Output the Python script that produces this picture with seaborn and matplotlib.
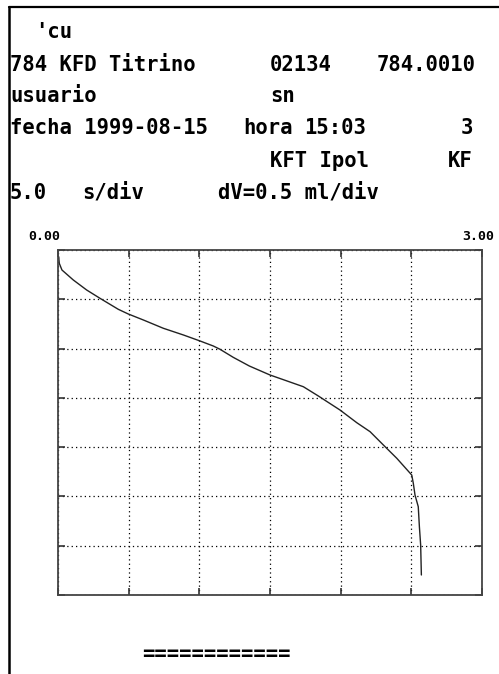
import numpy as np
import pandas as pd
import matplotlib
matplotlib.use("Agg")
import matplotlib.pyplot as plt
import seaborn as sns

# Titration curve: dispensed volume (ml) against elapsed time (s)
volume_ml = [0.005, 0.009, 0.028, 0.108, 0.203, 0.297, 0.427, 0.497,
             0.604, 0.745, 0.887, 1.005, 1.099, 1.146, 1.240, 1.354, 1.500,
             1.736, 1.842, 1.995, 2.114, 2.208, 2.302, 2.397, 2.503, 2.514,
             2.526, 2.549, 2.557, 2.566, 2.571]
time_s = [0.68, 1.35, 2.03, 3.04, 4.06, 4.90, 6.02, 6.49,
          7.10, 7.94, 8.62, 9.23, 9.74, 10.07, 10.89, 11.77, 12.68,
          13.87, 14.81, 16.23, 17.52, 18.43, 19.78, 21.13, 22.83, 23.67,
          24.86, 26.04, 28.07, 29.93, 32.97]

x_range = [0.0, 3.0]
x_step = 0.5
y_range = [0.0, 35.0]
y_step = 5.0
x_end_labels = ["0.00", "3.00"]

header_rows = [
    [("'cu", 35, "left")],
    [("784 KFD Titrino", 10, "left"), ("02134", 270, "left"), ("784.0010", 377, "left")],
    [("usuario", 10, "left"), ("sn", 270, "left")],
    [("fecha 1999-08-15", 10, "left"), ("hora", 243, "left"), ("15:03", 304, "left"),
     ("3", 473, "right")],
    [("KFT Ipol", 270, "left"), ("KF", 473, "right")],
    [("5.0", 10, "left"), ("s/div", 82, "left"), ("dV=0.5 ml/div", 218, "left")],
]
row_y = [32, 65, 96, 128, 161, 193]
footer = "============"

sns.set_theme(style="white")
plt.rcParams["font.family"] = ["DejaVu Sans Mono", "DejaVu Sans"]

W, H = 499, 674
fig = plt.figure(figsize=(W / 100, H / 100), dpi=100)
fig.patch.set_facecolor("white")


def fx(px):
    return px / W


def fy(py):
    return 1 - py / H


# page border (top and left edges)
fig.add_artist(plt.Line2D([fx(9), fx(499)], [fy(7), fy(7)], color="black", lw=1.6))
fig.add_artist(plt.Line2D([fx(9), fx(9)], [fy(7), fy(674)], color="black", lw=1.8))

# printed header
for row, y in zip(header_rows, row_y):
    for text, x, ha in row:
        fig.text(fx(x), fy(y), text, ha=ha, va="center", fontsize=14.8,
                 fontweight="bold", color="black")

# plot area
left, right, top, bottom = 58, 482, 250, 595
ax = fig.add_axes([fx(left), fy(bottom), (right - left) / W, (bottom - top) / H])
df = pd.DataFrame({"volume": volume_ml, "time": time_s})
sns.lineplot(data=df, x="volume", y="time", sort=False, ax=ax,
             color="#222222", linewidth=1.0)

ax.set_xlim(*x_range)
ax.set_ylim(y_range[1], y_range[0])
ax.set_xticks(np.arange(x_range[0], x_range[1] + 1e-9, x_step))
ax.set_yticks(np.arange(y_range[0], y_range[1] + 1e-9, y_step))
ax.set_xticklabels([])
ax.set_yticklabels([])
ax.set_xlabel("")
ax.set_ylabel("")
ax.tick_params(direction="in", length=5, width=1.2, color="#333333",
               top=True, right=True, bottom=True, left=True)
ax.grid(True, color="black", linestyle=(0, (1, 2.5)), linewidth=0.9)
for s in ax.spines.values():
    s.set_color("#444444")
    s.set_linewidth(1.3)
ax.set_facecolor("white")

# scale end values above the plot
fig.text(fx(28), fy(237), x_end_labels[0], ha="left", va="center",
         fontsize=9.5, fontweight="bold", color="black")
fig.text(fx(494), fy(237), x_end_labels[1], ha="right", va="center",
         fontsize=9.5, fontweight="bold", color="black")

fig.text(fx(142), fy(654), footer, ha="left", va="center", fontsize=14.8,
         fontweight="bold", color="black")

fig.savefig("out.png", dpi=100, facecolor="white")
